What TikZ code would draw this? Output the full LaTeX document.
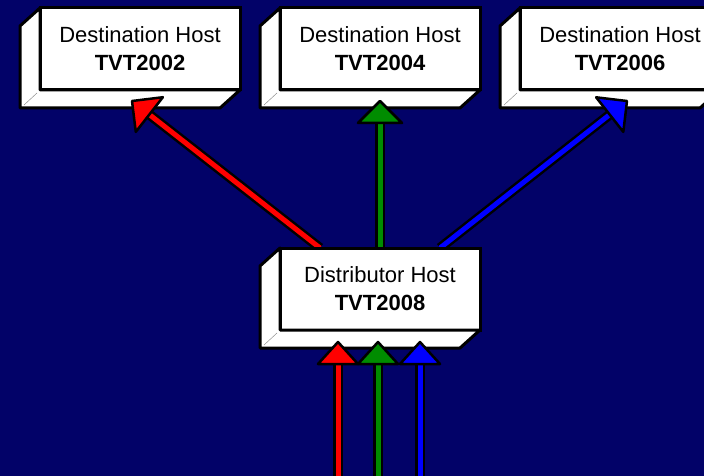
\documentclass[tikz,border=0pt]{standalone}
\usepackage{fontspec}
\setmainfont{Liberation Sans}
\usetikzlibrary{calc,backgrounds}

\definecolor{navy}{RGB}{2,2,104}
\definecolor{linkred}{RGB}{255,0,0}
\definecolor{linkgreen}{RGB}{0,140,0}
\definecolor{linkblue}{RGB}{0,0,255}

\tikzset{
  host/.style={draw, fill=white, line width=3pt, minimum width=200pt,
    minimum height=82pt, align=center, inner sep=0pt, outer sep=0pt,
    font=\fontsize{22}{28}\selectfont},
}

% colour, from, to (optional: half width of the head)
\newcommand{\feedarrow}[4][22]{
  \begin{pgfonlayer}{background}
    \draw[line width=10pt, black, shorten >=18pt] (#3) -- (#4);
    \draw[line width=5pt, #2, shorten >=18pt] (#3) -- (#4);
  \end{pgfonlayer}
  \filldraw[fill=#2, draw=black, line width=2.5pt, line join=round]
    (#4) -- ($(#4)!22pt!(#3)!#1pt!90:(#4)$) -- ($(#4)!22pt!(#3)!#1pt!-90:(#4)$) -- cycle;
}

\begin{document}
\begin{tikzpicture}[x=1pt, y=-1pt]
    \clip (0,0) rectangle (704,476);
    \begin{pgfonlayer}{background}
        \fill[navy] (0,0) rectangle (704,476);
    \end{pgfonlayer}

    \node[host] (h2) at (140,49) {Destination Host\\\textbf{TVT2002}};
    \node[host] (h4) at (380,49) {Destination Host\\\textbf{TVT2004}};
    \node[host] (h6) at (620,49) {Destination Host\\\textbf{TVT2006}};
    \node[host] (dist) at (380,289) {Distributor Host\\\textbf{TVT2008}};

    % side and bottom faces
    \foreach \h in {h2,h4,h6,dist}{
        \filldraw[fill=white, line width=3pt, line join=round]
            (\h.north west) -- ++(-20,18) -- ($(\h.south west)+(-20,18)$)
            -- ($(\h.south east)+(-20,18)$) -- (\h.south east)
            -- (\h.south west) -- cycle;
        \draw[gray, thin] ($(\h.south west)+(-3,3)$) -- ($(\h.south west)+(-16,15)$);
    }

    % links to the destination hosts
    \coordinate (r0) at ($(dist.north)+(-60,0)$);
    \coordinate (g0) at (dist.north);
    \coordinate (b0) at ($(dist.north)+(60,0)$);
    \coordinate (r1) at ($(h2.south)+(-8,11)$);
    \coordinate (g1) at ($(h4.south)+(0,11)$);
    \coordinate (b1) at ($(h6.south)+(7,11)$);

    % incoming links
    \coordinate (ri) at (338,490);
    \coordinate (gi) at (378,490);
    \coordinate (bi) at (420,490);
    \coordinate (rt) at ($(dist.south)+(-42,12)$);
    \coordinate (gt) at ($(dist.south)+(-2,12)$);
    \coordinate (bt) at ($(dist.south)+(40,12)$);

    \feedarrow{linkred}{r0}{r1}
    \feedarrow{linkgreen}{g0}{g1}
    \feedarrow{linkblue}{b0}{b1}

    \feedarrow[20]{linkred}{ri}{rt}
    \feedarrow[20]{linkgreen}{gi}{gt}
    \feedarrow[20]{linkblue}{bi}{bt}
\end{tikzpicture}
\end{document}
